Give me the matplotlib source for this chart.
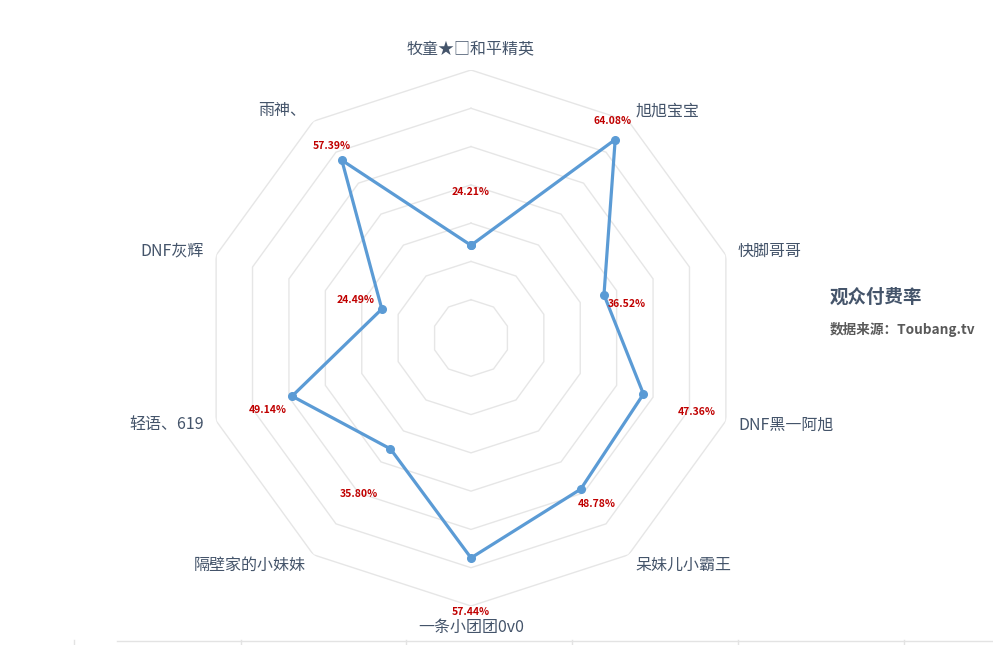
import numpy as np
import matplotlib
matplotlib.use('Agg')
import matplotlib.pyplot as plt
from matplotlib.lines import Line2D

plt.rcParams['font.family'] = ['Noto Sans CJK SC', 'DejaVu Sans']

# data
categories = ['牧童★□和平精英', '旭旭宝宝', '快脚哥哥', 'DNF黑一阿旭', '呆妹儿小霸王',
              '一条小团团0v0', '隔壁家的小妹妹', '轻语、619', 'DNF灰辉', '雨神、']
pay_rate = [24.21, 64.08, 36.52, 47.36, 48.78, 57.44, 35.80, 49.14, 24.49, 57.39]
ring_levels = [10, 20, 30, 40, 50, 60, 70]

# where the red value labels sit relative to their point (pixels)
label_offsets = [(0, 53), (-3, 19), (23, -9), (53, -18), (16, -15),
                 (0, -54), (-32, -45), (-24, -14), (-26, 9), (-10, 14)]

line_color = '#5b9bd5'
text_color = '#44546a'
grid_color = '#e6e6e6'

n = len(categories)
theta = np.linspace(0, 2 * np.pi, n, endpoint=False)

fig = plt.figure(figsize=(9.93, 6.45), dpi=100)
ax = fig.add_axes([203 / 993, 39 / 645, 536 / 993, 536 / 645], projection='polar')
ax.set_theta_zero_location('N')
ax.set_theta_direction(-1)
ax.set_ylim(0, 70)
ax.grid(False)
ax.set_xticks([])
ax.set_yticks([])
ax.spines['polar'].set_visible(False)
ax.patch.set_alpha(0)

# decagon rings
tt = np.append(theta, theta[0])
for lvl in ring_levels:
    ax.plot(tt, [lvl] * len(tt), color=grid_color, lw=1, zorder=1)

# the series
vals = pay_rate + pay_rate[:1]
ax.plot(tt, vals, color=line_color, lw=2.3, zorder=3,
        marker='o', markersize=5.5, markerfacecolor=line_color, markeredgecolor=line_color)

for th, v, off in zip(theta, pay_rate, label_offsets):
    ax.annotate(f'{v:.2f}%', xy=(th, v), xytext=off, textcoords='offset pixels',
                ha='center', va='center', fontsize=7.5, fontweight='bold',
                color='#c00000', zorder=4)

# category labels
r_lab = 73.3
for th, name in zip(theta, categories):
    deg = np.degrees(th)
    if deg < 1:
        ha, va = 'center', 'bottom'
    elif abs(deg - 180) < 1:
        ha, va = 'center', 'top'
    elif deg < 180:
        ha, va = 'left', 'center'
    else:
        ha, va = 'right', 'center'
    ax.text(th, r_lab, name, ha=ha, va=va, fontsize=11.5, color=text_color)

# title block on the right
fig.text(0.836, 0.5395, '观众付费率', fontsize=13.3, fontweight='bold',
         color=text_color, ha='left', va='center')
fig.text(0.836, 0.4884, '数据来源：Toubang.tv', fontsize=9.8, fontweight='bold',
         color='#595959', ha='left', va='center')

# faint sheet grid strip at the bottom edge
fig.add_artist(Line2D([0.118, 1], [0.006, 0.006], transform=fig.transFigure,
                      color='#e3e3e3', lw=1))
for xp in [74, 241, 406, 572, 738, 904]:
    fig.add_artist(Line2D([xp / 993, xp / 993], [0, 0.008], transform=fig.transFigure,
                          color='#e3e3e3', lw=1))

fig.savefig('out.png', dpi=100)
